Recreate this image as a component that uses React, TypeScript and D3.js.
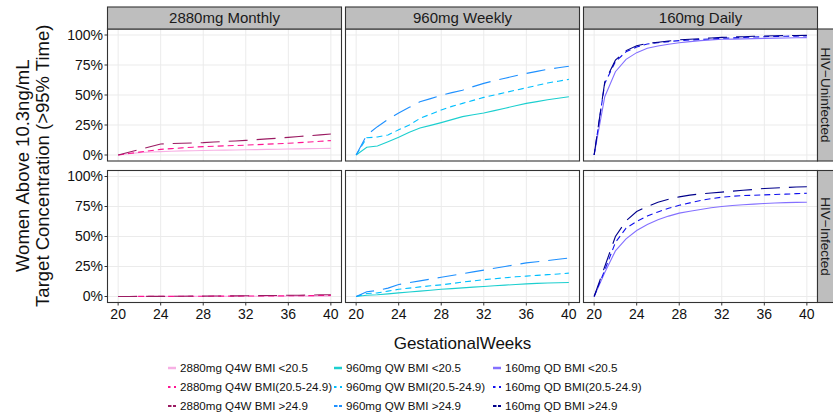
import React from 'react';
import * as d3 from 'd3';

const weeks = [20,21,22,23,24,25,26,27,28,29,30,31,32,33,34,35,36,37,38,39,40];

const regimens = ['2880mg Monthly', '960mg Weekly', '160mg Daily'];
const statuses = ['HIV\u2212Uninfected', 'HIV\u2212Infected'];

// HIV-Uninfected
const monthlyLowU = [0,1,2,2.5,2.8,3.1,3.4,3.6,3.8,4,4.1,4.2,4.4,4.5,4.7,4.8,5,5.1,5.3,5.4,5.5];
const monthlyMidU = [0,1.2,2.4,3.6,4.7,5.3,5.9,6.5,7,7.3,7.6,7.9,8.2,8.6,9,9.4,9.8,10.3,10.8,11.4,12];
const monthlyHighU = [0,2.3,4.6,6.9,9.2,9.5,9.8,10,10.3,10.8,11.3,11.7,12.2,12.8,13.4,14,14.7,15.4,16.1,16.8,17.5];
const weeklyLowU = [0,6.4,7.5,11,14.7,19,22.5,24.7,27,29.5,32,33.5,35,37,39,41,43,44.5,46,47.3,48.6];
const weeklyMidU = [0,14.4,15,16.7,21,25,30.5,34,37.5,40.5,43,45.5,48,50,52,54,56,58,60,61.5,63];
const weeklyHighU = [0,16.7,23.6,29.7,35,39.7,44.4,47,49.7,52,54,57,59.7,62,64,66,68,69.7,71.4,72.7,74];
const dailyLowU = [0,48.6,69.4,79.7,85.3,88.9,90.8,92.3,93.6,94.5,95.3,95.9,96.4,96.6,96.8,97,97.2,97.4,97.5,97.7,97.8];
const dailyMidU = [0,59.7,77.8,86,90,92.5,93.6,94.5,95.3,95.8,96.3,96.8,97.2,97.6,97.9,98.3,98.6,98.8,99,99.1,99.2];
const dailyHighU = [0,61,79,87,91,93,94,95,96,96.5,97,97.5,98,98.3,98.6,98.9,99.2,99.4,99.5,99.6,99.7];

// HIV-Infected
const monthlyLowI = [0,0,0,0,0,0.1,0.1,0.1,0.1,0.1,0.1,0.2,0.2,0.2,0.2,0.2,0.3,0.3,0.3,0.3,0.3];
const monthlyMidI = [0,0,0.1,0.1,0.1,0.1,0.2,0.2,0.2,0.3,0.3,0.3,0.4,0.4,0.5,0.5,0.6,0.6,0.7,0.8,0.9];
const monthlyHighI = [0,0,0.1,0.1,0.1,0.2,0.2,0.3,0.3,0.4,0.5,0.5,0.6,0.7,0.8,0.9,1,1.1,1.2,1.4,1.5];
const weeklyLowI = [0,1,1.5,2.2,3,3.8,4.5,5.2,6,6.6,7.2,7.8,8.3,8.9,9.5,10,10.5,10.9,11.2,11.5,11.7];
const weeklyMidI = [0,2.5,3,4.5,6,7,8,8.9,9.7,10.8,12,13,14,14.8,15.6,16.4,17,17.6,18.2,18.8,19.5];
const weeklyHighI = [0,4,5,7,10,11.5,13,14.5,16,17.5,19,20.5,22,23.5,25,26.5,28,29,30,31,32];
const dailyLowI = [0,20,38,48,55,60,64,67,69.5,71,72.5,74,75,75.8,76.5,77,77.5,77.9,78.2,78.4,78.6];
const dailyMidI = [0,22,45,57,62.5,67,70.5,73.5,76,78,80,81.5,82.8,83.5,84.1,84.4,84.7,85,85.3,85.7,86];
const dailyHighI = [0,25,50,63,70.8,75,78.5,81,83,84.5,85.5,86.3,87,87.8,88.5,89.2,90,90.4,90.8,91.2,91.5];

const panelSeries = [
  [[monthlyLowU, monthlyMidU, monthlyHighU], [weeklyLowU, weeklyMidU, weeklyHighU], [dailyLowU, dailyMidU, dailyHighU]],
  [[monthlyLowI, monthlyMidI, monthlyHighI], [weeklyLowI, weeklyMidI, weeklyHighI], [dailyLowI, dailyMidI, dailyHighI]],
];

const seriesColors = [
  ['#f7b0e4', '#ff1493', '#9b1b62'],
  ['#1ccfcf', '#00bfff', '#1e90ff'],
  ['#8470ff', '#1010ee', '#00008b'],
];
const legendLabels = [
  ['2880mg Q4W BMI <20.5', '2880mg Q4W BMI(20.5-24.9)', '2880mg Q4W BMI >24.9'],
  ['960mg QW BMI <20.5', '960mg QW BMI(20.5-24.9)', '960mg QW BMI >24.9'],
  ['160mg QD BMI <20.5', '160mg QD BMI(20.5-24.9)', '160mg QD BMI >24.9'],
];
const xTicks = [20, 24, 28, 32, 36, 40];
const yTicks = [0, 25, 50, 75, 100];
const yTickLabels = ['0%', '25%', '50%', '75%', '100%'];

const dashes = [null, '6 4', '19 9'];
const keyDashes = [null, '2.5 3.5', '3.5 1.5'];

const W = 833, H = 416;
const panelLeft = [107.5, 345.5, 583.5];
const panelW = 234;
const panelTop = [29, 170.5];
const panelH = 132;
const stripTop = 7;
const FONT = 'Arial, "Liberation Sans", Helvetica, sans-serif';

export default function App() {
  const xScale = d3.scaleLinear().domain([19, 41]).range([0, panelW]);
  const yScale = d3.scaleLinear().domain([-5, 105]).range([panelH, 0]);
  const line = d3.line<[number, number]>()
    .x(d => xScale(d[0]))
    .y(d => yScale(d[1]));

  const panels: any[] = [];
  statuses.forEach((status, r) => {
    regimens.forEach((reg, c) => {
      const x0 = panelLeft[c], y0 = panelTop[r];
      panels.push(
        <g key={`p${r}${c}`} transform={`translate(${x0},${y0})`}>
          <rect x={0} y={0} width={panelW} height={panelH} fill="#fff" />
          {xTicks.map(t => (
            <line key={`gx${t}`} x1={xScale(t)} x2={xScale(t)} y1={0} y2={panelH} stroke="#ebebeb" strokeWidth={1} />
          ))}
          {yTicks.map(t => (
            <line key={`gy${t}`} x1={0} x2={panelW} y1={yScale(t)} y2={yScale(t)} stroke="#ebebeb" strokeWidth={1} />
          ))}
          {panelSeries[r][c].map((vals, k) => (
            <path key={`s${k}`} d={line(weeks.map((w, i) => [w, vals[i]]) as [number, number][]) || ''}
              fill="none" stroke={seriesColors[c][k]} strokeWidth={1.1}
              strokeDasharray={dashes[k] || undefined} />
          ))}
          <rect x={0} y={0} width={panelW} height={panelH} fill="none" stroke="#333" strokeWidth={1.1} />
          {c === 0 && yTicks.map((t, i) => (
            <g key={`yt${t}`}>
              <line x1={-3} x2={0} y1={yScale(t)} y2={yScale(t)} stroke="#333" strokeWidth={1} />
              <text x={-4.5} y={yScale(t)} dy="0.35em" textAnchor="end" fontSize={14} fill="#111" fontFamily={FONT}>{yTickLabels[i]}</text>
            </g>
          ))}
          {r === 1 && xTicks.map(t => (
            <g key={`xt${t}`}>
              <line x1={xScale(t)} x2={xScale(t)} y1={panelH} y2={panelH + 3} stroke="#333" strokeWidth={1} />
              <text x={xScale(t)} y={panelH + 16.5} textAnchor="middle" fontSize={14} fill="#111" fontFamily={FONT}>{t}</text>
            </g>
          ))}
        </g>
      );
    });
  });

  const strips = regimens.map((reg, c) => (
    <g key={`st${c}`}>
      <rect x={panelLeft[c]} y={stripTop} width={panelW} height={panelTop[0] - stripTop} fill="#bebebe" stroke="#333" strokeWidth={1.1} />
      <text x={panelLeft[c] + panelW / 2} y={stripTop + (panelTop[0] - stripTop) / 2} dy="0.36em" textAnchor="middle" fontSize={15} fill="#1a1a1a" fontFamily={FONT}>{reg}</text>
    </g>
  ));

  const rightX = panelLeft[2] + panelW;
  const rStrips = statuses.map((s, r) => (
    <g key={`rs${r}`}>
      <rect x={rightX} y={panelTop[r]} width={24} height={panelH} fill="#bebebe" stroke="#333" strokeWidth={1.1} />
      <text transform={`translate(${rightX + 8},${panelTop[r] + panelH / 2}) rotate(90)`} dy="0.36em" textAnchor="middle" fontSize={13.5} fill="#1a1a1a" fontFamily={FONT}>{s}</text>
    </g>
  ));

  const plotMidY = (panelTop[0] + panelTop[1] + panelH) / 2;
  const plotMidX = (panelLeft[0] + rightX) / 2;

  const legendColX = [168, 334, 493];
  const legendRowY = [368, 387, 406];

  return (
    <svg width={W} height={H} style={{ position: 'absolute', left: 0, top: 0, background: '#fff' }}>
      <rect x={0} y={0} width={W} height={H} fill="#fff" />
      {panels}
      {strips}
      {rStrips}
      <text transform={`translate(22,${plotMidY}) rotate(-90)`} dy="0.36em" textAnchor="middle" fontSize={18.5} fill="#111" fontFamily={FONT}>Women Above 10.3ng/mL</text>
      <text transform={`translate(42,${plotMidY}) rotate(-90)`} dy="0.36em" textAnchor="middle" fontSize={18.5} fill="#111" fontFamily={FONT}>Target Concentration (&gt;95% Time)</text>
      <text x={plotMidX} y={343} dy="0.36em" textAnchor="middle" fontSize={17} fill="#111" fontFamily={FONT}>GestationalWeeks</text>
      {legendLabels.map((col, c) => col.map((lab, k) => (
        <g key={`lg${c}${k}`}>
          <line x1={legendColX[c]} x2={legendColX[c] + 8} y1={legendRowY[k]} y2={legendRowY[k]} stroke={seriesColors[c][k]} strokeWidth={k === 0 ? 2.5 : 2} strokeDasharray={keyDashes[k] || undefined} />
          <text x={legendColX[c] + 12} y={legendRowY[k]} dy="0.36em" fontSize={11.6} fill="#111" fontFamily={FONT}>{lab}</text>
        </g>
      )))}
    </svg>
  );
}
